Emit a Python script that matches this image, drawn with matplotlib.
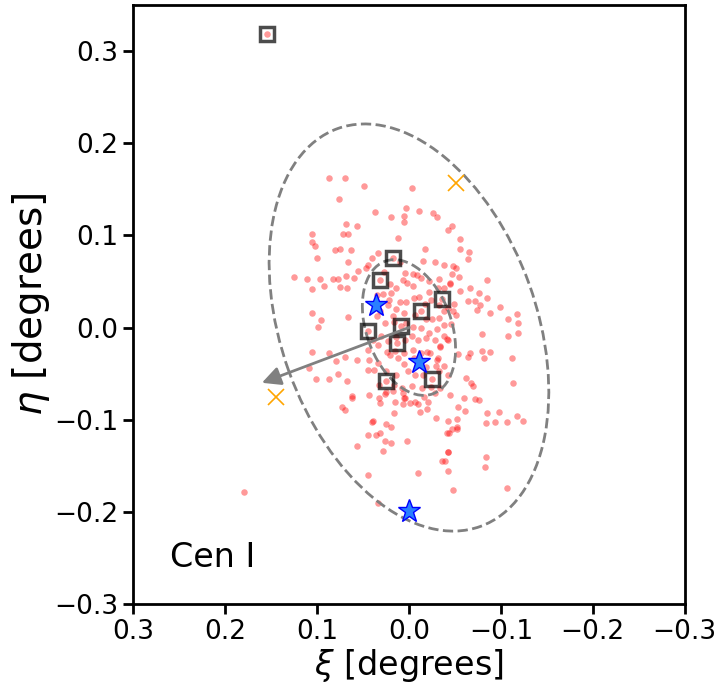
import matplotlib
matplotlib.use("Agg")
import matplotlib.pyplot as plt
import numpy as np
from matplotlib.patches import Ellipse

# member candidates (xi, eta) in degrees
xi = [0.087, 0.070, 0.049, -0.003, 0.076, 0.003, 0.037, -0.011, -0.026, -0.031,
      0.019, 0.005, 0.005, 0.069, 0.056, -0.047, -0.042, 0.105, 0.072, 0.066,
      0.012, -0.055, 0.106, 0.102, 0.081, 0.075, 0.063, 0.034, -0.017, -0.056,
      -0.065, 0.100, -0.064, 0.066, 0.040, 0.045, -0.015, -0.028, -0.038, -0.048,
      -0.051, 0.125, 0.111, 0.097, 0.083, 0.077, 0.069, 0.060, 0.055, 0.047,
      0.027, -0.085, -0.047, -0.054, 0.105, 0.092, 0.075, 0.067, -0.066, -0.076,
      -0.085, -0.099, -0.088, -0.117, -0.119, -0.108, 0.105, 0.096, 0.099, 0.066,
      -0.072, -0.074, -0.064, 0.105, 0.109, 0.087, 0.079, 0.070, 0.056, -0.079,
      -0.119, -0.108, -0.079, -0.088, -0.066, -0.064, -0.112, -0.113, -0.062, -0.067,
      -0.070, -0.060, -0.072, -0.076, 0.101, 0.087, 0.077, 0.067, 0.062, 0.062,
      0.073, 0.070, -0.085, -0.098, -0.084, -0.094, -0.107, -0.117, -0.124, 0.043,
      0.033, 0.032, 0.015, 0.025, 0.004, 0.007, -0.001, -0.007, -0.010, -0.020,
      -0.012, -0.021, 0.039, 0.040, 0.016, 0.025, 0.020, 0.031, 0.026, 0.036,
      0.045, -0.043, -0.052, -0.041, -0.047, -0.052, 0.019, 0.002, 0.057, 0.028,
      -0.039, -0.036, -0.042, -0.043, 0.045, -0.010, -0.084, -0.083, -0.048, -0.107,
      0.034, 0.179,
      0.010, 0.004, -0.004, 0.007, 0.002, -0.004, -0.009, -0.022, -0.022, -0.032,
      -0.038, -0.045, 0.021, 0.014, 0.019, 0.022, 0.010, 0.003, -0.006, -0.011,
      -0.017, -0.024, -0.033, -0.038, -0.042, -0.048, 0.035, 0.028, 0.023, 0.014,
      0.017, 0.005, -0.007, -0.019, -0.025, -0.033, -0.038, 0.032, 0.035, 0.026,
      0.016, 0.003, -0.004, -0.013, -0.022, -0.030, -0.038, -0.042, 0.039, 0.030,
      0.023, 0.014, 0.004, -0.003, -0.010, -0.018, -0.028, -0.034, 0.045, 0.034,
      0.024, 0.015, 0.005, -0.004, -0.013, -0.023, -0.032, -0.053, 0.043, 0.034,
      0.021, 0.012, 0.005, -0.006, -0.018, -0.029, 0.045, 0.038, 0.025, 0.014,
      0.001, -0.007, -0.015, -0.033, -0.038, 0.033, 0.016, 0.008, -0.003, -0.014,
      -0.024, -0.028, -0.034, -0.042,
      -0.077, -0.082, -0.033, -0.013, -0.045, -0.056, -0.049, -0.051, -0.046, -0.041,
      -0.034, -0.030, -0.020, -0.045, -0.061, -0.053, -0.029, -0.052, -0.044, -0.043,
      0.006, 0.005, -0.016, 0.026, 0.017]
eta = [0.162, 0.162, 0.154, 0.151, 0.140, 0.130, 0.125, 0.126, 0.124, 0.120,
       0.120, 0.121, 0.115, 0.112, 0.110, 0.110, 0.106, 0.101, 0.102, 0.102,
       0.097, 0.096, 0.093, 0.089, 0.084, 0.085, 0.084, 0.081, 0.085, 0.085,
       0.082, 0.075, 0.074, 0.071, 0.075, 0.068, 0.072, 0.071, 0.068, 0.067,
       0.065, 0.055, 0.053, 0.053, 0.053, 0.053, 0.056, 0.054, 0.061, 0.065,
       0.060, 0.052, 0.058, 0.055, 0.042, 0.045, 0.044, 0.043, 0.043, 0.038,
       0.032, 0.022, 0.016, 0.015, 0.005, 0.009, 0.016, 0.008, 0.001, 0.011,
       0.029, 0.019, 0.029, -0.027, -0.044, -0.028, -0.036, -0.032, -0.035, -0.007,
       -0.006, -0.009, -0.026, -0.027, -0.028, -0.032, -0.033, -0.060, -0.055, -0.060,
       -0.064, -0.077, -0.078, -0.079, -0.056, -0.056, -0.050, -0.058, -0.074, -0.076,
       -0.086, -0.089, -0.093, -0.092, -0.104, -0.103, -0.103, -0.096, -0.101, -0.073,
       -0.077, -0.082, -0.081, -0.070, -0.077, -0.083, -0.082, -0.081, -0.083, -0.088,
       -0.092, -0.081, -0.101, -0.103, -0.093, -0.105, -0.108, -0.115, -0.123, -0.117,
       -0.117, -0.101, -0.099, -0.115, -0.110, -0.110, -0.125, -0.123, -0.129, -0.134,
       -0.145, -0.145, -0.135, -0.156, -0.160, -0.158, -0.140, -0.151, -0.176, -0.174,
       -0.190, -0.179,
       0.071, 0.059, 0.058, 0.052, 0.048, 0.045, 0.057, 0.050, 0.039, 0.043,
       0.043, 0.047, 0.047, 0.043, 0.038, 0.030, 0.028, 0.028, 0.032, 0.033,
       0.026, 0.030, 0.024, 0.018, 0.021, 0.018, 0.035, 0.036, 0.024, 0.020,
       0.013, 0.016, 0.014, 0.009, 0.009, 0.010, 0.003, 0.018, 0.012, 0.005,
       0.006, 0.005, 0.001, -0.001, -0.006, -0.002, -0.009, -0.014, -0.014, -0.009,
       -0.015, -0.010, -0.014, -0.009, -0.014, -0.011, -0.014, -0.021, -0.024, -0.019,
       -0.027, -0.025, -0.028, -0.024, -0.028, -0.028, -0.033, -0.029, -0.035, -0.038,
       -0.030, -0.033, -0.040, -0.033, -0.043, -0.042, -0.046, -0.046, -0.047, -0.051,
       -0.047, -0.052, -0.051, -0.047, -0.042, -0.062, -0.062, -0.066, -0.063, -0.066,
       -0.065, -0.071, -0.066, -0.052,
       0.024, -0.033, 0.053, 0.054, 0.048, 0.040, 0.025, 0.014, 0.004, -0.012,
       -0.020, -0.035, -0.027, -0.073, -0.091, -0.086, -0.098, -0.108, -0.115, -0.135,
       -0.071, -0.076, -0.075, -0.072, -0.069]

# members with spectroscopy (open squares)
xi_sq = [0.154, 0.017, 0.0315, -0.0364, -0.013, 0.0085, 0.045, 0.0135, 0.0245, -0.0255]
eta_sq = [0.318, 0.0759, 0.0517, 0.0308, 0.018, 0.002, -0.0038, -0.0166, -0.0583, -0.0555]

# variable stars (blue stars)
xi_star = [0.0364, -0.0105, 0.000]
eta_star = [0.0247, -0.037, -0.199]

# orange crosses
xi_x = [0.1448, -0.0509]
eta_x = [-0.0759, 0.1565]

# structural parameters (ellipse) and proper-motion arrow
ell_a = 0.2294      # semi-major axis of outer ellipse [deg]
ell_b = 0.139       # semi-minor axis [deg]
ell_pa = 70.2       # angle in data coords [deg]
inner_scale = 1.0 / 3.0
arrow_end = (0.160, -0.060)

fig = plt.figure(figsize=(7.2, 6.83), dpi=100)
ax = fig.add_axes([0.185, 0.1157, 0.766, 0.877])

ax.scatter(xi, eta, s=22, color='red', alpha=0.4, linewidths=0, zorder=2)
ax.scatter(xi_sq, eta_sq, s=22, color='red', alpha=0.4, linewidths=0, zorder=2)
ax.plot(xi_sq, eta_sq, ls='none', marker='s', ms=10.5, mfc='none', mec='black',
        mew=2.5, alpha=0.7, zorder=4)

for sc in (1.0, inner_scale):
    e = Ellipse((0, 0), width=2 * ell_a * sc, height=2 * ell_b * sc, angle=ell_pa,
                fill=False, ls='--', lw=2, color='gray', zorder=3)
    ax.add_patch(e)

ax.annotate('', xy=arrow_end, xytext=(0, 0),
            arrowprops=dict(arrowstyle='-|>', color='gray', lw=2,
                            mutation_scale=28, shrinkA=0, shrinkB=0), zorder=5)

ax.plot(xi_star, eta_star, ls='none', marker='*', ms=17, mfc='#2a7fff',
        mec='blue', mew=1, zorder=6)
ax.plot(xi_x, eta_x, ls='none', marker='x', ms=11, color='orange', mew=1.2, zorder=6)

ax.text(0.26, -0.25, 'Cen I', fontsize=24, va='center', ha='left')

ax.set_xlim(0.3, -0.3)
ax.set_ylim(-0.3, 0.35)
ax.set_xticks([0.3, 0.2, 0.1, 0.0, -0.1, -0.2, -0.3])
ax.set_yticks([-0.3, -0.2, -0.1, 0.0, 0.1, 0.2, 0.3])
ax.tick_params(labelsize=19, width=2, length=7, direction='out')
for s in ax.spines.values():
    s.set_linewidth(2)
ax.set_xlabel(r'$\xi$ [degrees]', fontsize=24, labelpad=2)
ax.set_ylabel(r'$\eta$ [degrees]', fontsize=28, labelpad=2)

fig.savefig('out.png', dpi=100)
